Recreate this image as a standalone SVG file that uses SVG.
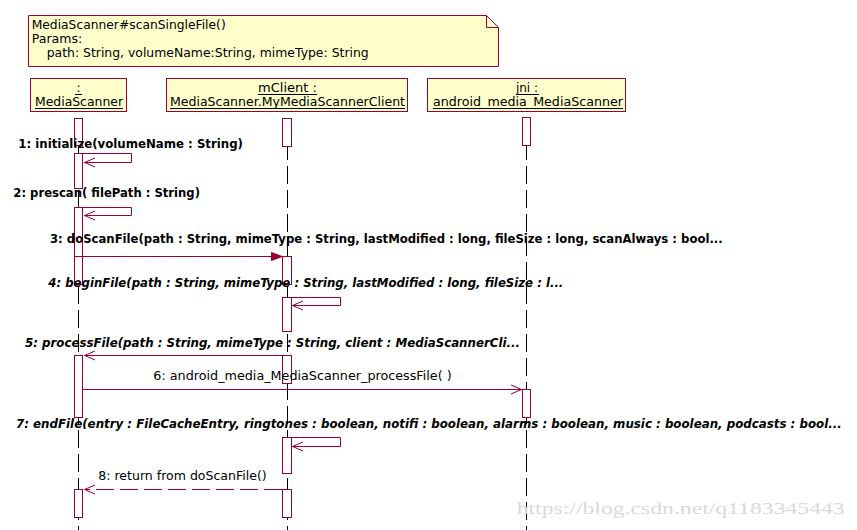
<svg xmlns="http://www.w3.org/2000/svg" width="857" height="530" viewBox="0 0 857 530">
<style>
.bg{fill:#fff}
.box{fill:#FFFFCC;stroke:#990033;stroke-width:1}
.act{fill:#fff;stroke:#990033;stroke-width:1}
.life{stroke:#000;stroke-width:1;stroke-dasharray:18 6;fill:none}
.ul{stroke:#000;stroke-width:1}
.msg{fill:none;stroke:#990033;stroke-width:1}
.ah{fill:none;stroke:#990033;stroke-width:1}
.fah{fill:#990033;stroke:#990033;stroke-width:1}
.dash{stroke-dasharray:18 6}
.t{font-family:"DejaVu Sans",Verdana,sans-serif;font-size:12px;fill:#000}
.b{font-weight:bold}
.bi{font-weight:bold;font-style:italic}
.wm{font-family:"Liberation Serif",serif;font-size:17px;fill:#d9d9d9}
</style>
<rect class="bg" x="0" y="0" width="857" height="530"/>

<g id="note">
  <path class="box" d="M28.5,15.5 H486.5 L498.5,27.5 V66.5 H28.5 Z"/>
  <path class="msg" d="M486.5,15.5 V27.5 H498.5"/>
  <text class="t" x="31.7" y="29" textLength="194" lengthAdjust="spacingAndGlyphs">MediaScanner#scanSingleFile()</text>
  <text class="t" x="31.7" y="42.5" textLength="50.6" lengthAdjust="spacingAndGlyphs">Params:</text>
  <text class="t" x="46.7" y="56.5" textLength="322" lengthAdjust="spacingAndGlyphs">path: String, volumeName:String, mimeType: String</text>
</g>

<g id="mediaScanner">
  <rect class="box" x="30.5" y="78.5" width="96" height="33"/>
  <text class="t" x="78.5" y="92" text-anchor="middle">:</text>
  <line class="ul" x1="75" y1="94.5" x2="82" y2="94.5"/>
  <text class="t" x="35" y="106" textLength="88" lengthAdjust="spacingAndGlyphs">MediaScanner</text>
  <line class="ul" x1="35" y1="108.5" x2="123" y2="108.5"/>
  <line class="life" x1="78.5" y1="118" x2="78.5" y2="530"/>
  <rect class="act" x="74.5" y="118.5" width="8" height="27"/>
  <rect class="act" x="74.5" y="153.5" width="8" height="35"/>
  <rect class="act" x="74.5" y="207.5" width="8" height="49"/>
  <rect class="act" x="74.5" y="256.5" width="8" height="28"/>
  <rect class="act" x="74.5" y="355.5" width="8" height="62"/>
  <rect class="act" x="74.5" y="489.5" width="8" height="28"/>
</g>

<g id="mClient">
  <rect class="box" x="166.5" y="78.5" width="241" height="33"/>
  <text class="t" x="258" y="92" textLength="59" lengthAdjust="spacingAndGlyphs">mClient :</text>
  <line class="ul" x1="258" y1="94.5" x2="317" y2="94.5"/>
  <text class="t" x="170" y="106" textLength="235" lengthAdjust="spacingAndGlyphs">MediaScanner.MyMediaScannerClient</text>
  <line class="ul" x1="170" y1="108.5" x2="405" y2="108.5"/>
  <line class="life" x1="287.5" y1="118" x2="287.5" y2="530"/>
  <rect class="act" x="282.5" y="118.5" width="9" height="28"/>
  <rect class="act" x="282.5" y="256.5" width="9" height="28"/>
  <rect class="act" x="282.5" y="297.5" width="9" height="34"/>
  <rect class="act" x="282.5" y="355.5" width="9" height="28"/>
  <rect class="act" x="282.5" y="437.5" width="9" height="36"/>
  <rect class="act" x="282.5" y="489.5" width="9" height="28"/>
</g>

<g id="jni">
  <rect class="box" x="427.5" y="78.5" width="198" height="33"/>
  <text class="t" x="527" y="92" text-anchor="middle">jni :</text>
  <line class="ul" x1="516" y1="94.5" x2="539" y2="94.5"/>
  <text class="t" x="433" y="106" textLength="190" lengthAdjust="spacingAndGlyphs">android_media_MediaScanner</text>
  <line class="ul" x1="433" y1="108.5" x2="623" y2="108.5"/>
  <line class="life" x1="526.5" y1="118" x2="526.5" y2="530"/>
  <rect class="act" x="522.5" y="117.5" width="8" height="28"/>
  <rect class="act" x="522.5" y="389.5" width="8" height="28"/>
</g>

<g id="connectors">
  <!-- 1 -->
  <path class="msg" d="M82.5,153.5 H131.5 V162.5 H84.5"/>
  <polyline class="ah" points="95,158 84.5,162.5 95,167"/>
  <text class="t b" x="18.3" y="147.5" textLength="224.7" lengthAdjust="spacingAndGlyphs">1: initialize(volumeName : String)</text>
  <!-- 2 -->
  <path class="msg" d="M82.5,207.5 H131.5 V215.5 H84.5"/>
  <polyline class="ah" points="95,211 84.5,215.5 95,220"/>
  <text class="t b" x="13.3" y="196.7" textLength="186.7" lengthAdjust="spacingAndGlyphs">2: prescan( filePath : String)</text>
  <!-- 3 -->
  <line class="msg" x1="82.5" y1="256.5" x2="272" y2="256.5"/>
  <polygon class="fah" points="282,256.5 271.5,252.5 271.5,260.5"/>
  <text class="t b" x="50" y="242.7" textLength="672.7" lengthAdjust="spacingAndGlyphs">3: doScanFile(path : String, mimeType : String, lastModified : long, fileSize : long, scanAlways : bool...</text>
  <!-- 4 -->
  <path class="msg" d="M291.5,297.5 H340.5 V305.5 H292.5"/>
  <polyline class="ah" points="303,301 292.5,305.5 303,310"/>
  <text class="t bi" x="48.3" y="286.7" textLength="515" lengthAdjust="spacingAndGlyphs">4: beginFile(path : String, mimeType : String, lastModified : long, fileSize : l...</text>
  <!-- 5 -->
  <line class="msg" x1="282" y1="355.5" x2="84.5" y2="355.5"/>
  <polyline class="ah" points="95,351 84.5,355.5 95,360"/>
  <text class="t bi" x="25" y="347.3" textLength="495" lengthAdjust="spacingAndGlyphs">5: processFile(path : String, mimeType : String, client : MediaScannerCli...</text>
  <!-- 6 -->
  <line class="msg" x1="82.5" y1="389.5" x2="521.5" y2="389.5"/>
  <polyline class="ah" points="511,385 521.5,389.5 511,394"/>
  <text class="t" x="153.3" y="380" textLength="298.4" lengthAdjust="spacingAndGlyphs">6: android_media_MediaScanner_processFile( )</text>
  <!-- 7 -->
  <path class="msg" d="M291.5,437.5 H340.5 V446.5 H292.5"/>
  <polyline class="ah" points="303,442 292.5,446.5 303,451"/>
  <text class="t bi" x="16" y="428.3" textLength="825.7" lengthAdjust="spacingAndGlyphs">7: endFile(entry : FileCacheEntry, ringtones : boolean, notifi : boolean, alarms : boolean, music : boolean, podcasts : bool...</text>
  <!-- 8 -->
  <line class="msg dash" x1="282" y1="489.5" x2="84.5" y2="489.5"/>
  <polyline class="ah" points="95,485 84.5,489.5 95,494"/>
  <text class="t" x="98.3" y="480" textLength="168.4" lengthAdjust="spacingAndGlyphs">8: return from doScanFile()</text>
</g>

<text class="wm" x="516.7" y="514" textLength="328" lengthAdjust="spacingAndGlyphs">https://blog.csdn.net/q1183345443</text>
</svg>
